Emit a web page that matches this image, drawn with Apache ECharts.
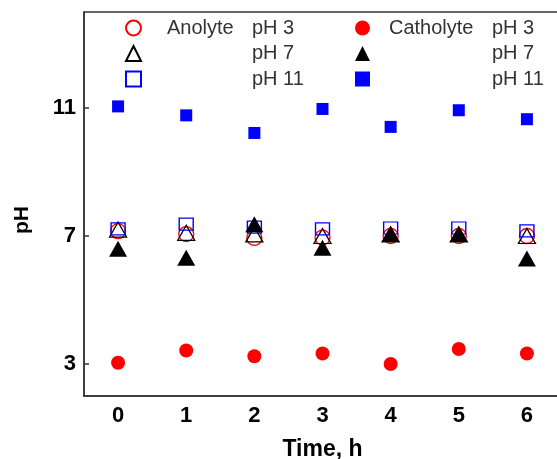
<!DOCTYPE html>
<html>
<head>
<meta charset="utf-8">
<script src="https://cdn.jsdelivr.net/npm/echarts@6/dist/echarts.min.js"></script>
<style>
  html, body { margin: 0; padding: 0; background: #fff; }
  #chart { width: 557px; height: 459px; }
</style>
</head>
<body>
<div id="chart"></div>
<script>
// time points, h
const hours = ['0', '1', '2', '3', '4', '5', '6'];
const phTicks = [3, 7, 11];

// anolyte pH (open markers)
const anolytePH3 = [7.15, 7.06, 6.94, 6.95, 7.0, 7.0, 7.0];
const anolytePH7 = [7.2, 7.1, 7.05, 7.0, 7.05, 7.05, 7.0];
const anolytePH11 = [7.22, 7.37, 7.28, 7.22, 7.25, 7.25, 7.16];

// catholyte pH (filled markers)
const catholytePH3 = [3.04, 3.42, 3.24, 3.33, 3.0, 3.47, 3.33];
const catholytePH7 = [6.6, 6.32, 7.37, 6.63, 7.06, 7.06, 6.3];
const catholytePH11 = [11.05, 10.77, 10.22, 10.97, 10.41, 10.93, 10.65];

const RED = '#ff0000', BLUE = '#0000ff', BLACK = '#000000';
const FONT = 'Liberation Sans';

function openSeries(name, data, symbol, size, color) {
  return {
    name, type: 'scatter', data, symbol, symbolSize: size,
    itemStyle: { color: 'rgba(255,255,255,0)', borderColor: color, borderWidth: 1.3, opacity: 1 },
    emphasis: { disabled: true }
  };
}
function filledSeries(name, data, symbol, size, color) {
  return {
    name, type: 'scatter', data, symbol, symbolSize: size,
    itemStyle: { color, opacity: 1 },
    emphasis: { disabled: true }
  };
}

function legendLabel(name) {
  const parts = name.split(' ');
  const group = parts[0];
  const ph = parts.slice(1).join(' ');
  const first = ph === 'pH 3' ? group : '';
  return '{g|}{a|' + first + '}{p|' + ph + '}';
}
function legendRich(firstWidth, gap) {
  return {
    g: { width: gap },
    a: { width: firstWidth, fontFamily: FONT, fontSize: 20, color: '#333', lineHeight: 20 },
    p: { fontFamily: FONT, fontSize: 20, color: '#333', lineHeight: 20 }
  };
}

const chart = echarts.init(document.getElementById('chart'));
chart.setOption({
  animation: false,
  backgroundColor: '#fff',
  grid: {
    left: 84, top: 12, width: 477, height: 384,
    outerBoundsMode: 'none',
    show: true, borderColor: '#333', borderWidth: 1.5
  },
  legend: [
    {
      orient: 'vertical', left: 120, top: 13,
      itemWidth: 15, itemHeight: 15, itemGap: 5.5,
      data: ['Anolyte pH 3', 'Anolyte pH 7', 'Anolyte pH 11'],
      formatter: legendLabel,
      textStyle: { rich: legendRich(85, 21) },
      selectedMode: false
    },
    {
      orient: 'vertical', left: 350, top: 13,
      itemWidth: 15, itemHeight: 15, itemGap: 5.5,
      data: ['Catholyte pH 3', 'Catholyte pH 7', 'Catholyte pH 11'],
      formatter: legendLabel,
      textStyle: { rich: legendRich(103, 14) },
      selectedMode: false
    }
  ],
  xAxis: {
    type: 'category',
    data: hours,
    boundaryGap: true,
    name: 'Time, h',
    nameLocation: 'middle',
    nameGap: 42,
    nameTextStyle: { fontFamily: FONT, fontSize: 23, fontWeight: 'bold', color: '#000' },
    axisLine: { lineStyle: { color: '#333', width: 1.5 } },
    axisTick: { alignWithLabel: true, inside: true, length: 5, lineStyle: { color: '#333', width: 1.5 } },
    axisLabel: { fontFamily: FONT, fontSize: 22, fontWeight: 'bold', color: '#000', margin: 9 },
    splitLine: { show: false }
  },
  yAxis: {
    type: 'value',
    min: 2, max: 14, interval: 1,
    name: 'pH',
    nameLocation: 'middle',
    nameGap: 51,
    nameTextStyle: { fontFamily: FONT, fontSize: 21, fontWeight: 'bold', color: '#000', padding: [0, 32, 0, 0] },
    axisLine: { show: true, lineStyle: { color: '#333', width: 1.5 } },
    axisTick: { show: true, inside: true, length: 5, customValues: phTicks, lineStyle: { color: '#333', width: 1.5 } },
    axisLabel: { fontFamily: FONT, fontSize: 22, fontWeight: 'bold', color: '#000', margin: 8, customValues: phTicks },
    splitLine: { show: false }
  },
  series: [
    openSeries('Anolyte pH 3', anolytePH3, 'circle', 15, RED),
    openSeries('Anolyte pH 7', anolytePH7, 'triangle', [17, 15], BLACK),
    openSeries('Anolyte pH 11', anolytePH11, 'rect', [14, 12], BLUE),
    filledSeries('Catholyte pH 3', catholytePH3, 'circle', 14, RED),
    filledSeries('Catholyte pH 7', catholytePH7, 'triangle', [18, 16], BLACK),
    filledSeries('Catholyte pH 11', catholytePH11, 'rect', 12, BLUE)
  ]
});
</script>
</body>
</html>
